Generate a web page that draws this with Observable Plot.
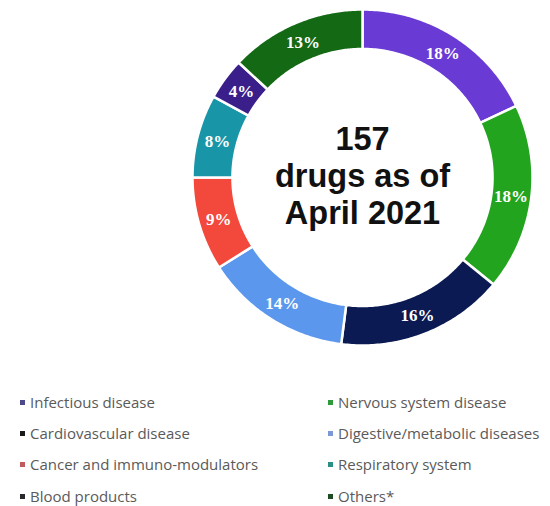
<!DOCTYPE html>
<html>
<head>
<meta charset="utf-8">
<script src="https://cdn.jsdelivr.net/npm/d3@7"></script>
<script src="https://cdn.jsdelivr.net/npm/@observablehq/plot@0.6"></script>
<style>
  html, body { margin: 0; padding: 0; background: #fff; overflow: hidden; }
  #chart { width: 550px; height: 350px; }
  #legend { position: relative; width: 550px; height: 156px; font-family: "Open Sans", sans-serif; font-size: 15px; color: #5a5a5a; }
  .item { position: absolute; white-space: nowrap; line-height: 16px; }
  .sw { display: inline-block; width: 5px; height: 5px; margin-right: 5px; vertical-align: middle; position: relative; top: -1px; }
</style>
</head>
<body>
<div id="chart"></div>
<div id="legend"></div>
<script>
const categories = ["Infectious disease", "Nervous system disease", "Cardiovascular disease", "Digestive/metabolic diseases", "Cancer and immuno-modulators", "Respiratory system", "Blood products", "Others*"];
const shares = [18, 18, 16, 14, 9, 8, 4, 13];
const sliceColors = ["#6a3bd4", "#22a41f", "#0b1a52", "#5b97ec", "#f2493c", "#1896a8", "#3a1f8a", "#146914"];
const legendColors = ["#4d4a8c", "#2f9a3a", "#1a1a1a", "#7c99d4", "#c05b5f", "#2a8f86", "#2a2a2a", "#1f4d22"];
const centerLines = ["157", "drugs as of", "April 2021"];
const legendOrder = [0, 2, 4, 6, 1, 3, 5, 7];

const innerR = 0.765, outerR = 1, labelR = 0.88;
const pie = d3.pie().sort(null).value(d => d)(shares);

// polygon outlines of each ring segment, computed from the pie angles
const ring = [];
pie.forEach((p, i) => {
  const n = 80;
  const pts = [];
  for (let k = 0; k <= n; k++) { const a = p.startAngle + (p.endAngle - p.startAngle) * k / n; pts.push([outerR * Math.sin(a), outerR * Math.cos(a)]); }
  for (let k = n; k >= 0; k--) { const a = p.startAngle + (p.endAngle - p.startAngle) * k / n; pts.push([innerR * Math.sin(a), innerR * Math.cos(a)]); }
  pts.forEach(([x, y], j) => ring.push({cat: categories[i], x, y, order: j}));
});
const labels = pie.map((p, i) => {
  const a = (p.startAngle + p.endAngle) / 2;
  return {x: labelR * Math.sin(a), y: labelR * Math.cos(a), text: shares[i] + "%"};
});

const chart = Plot.plot({
  width: 550, height: 350, margin: 0,
  x: {domain: [-1, 1], range: [192, 532], axis: null},
  y: {domain: [-1, 1], range: [345, 9], axis: null},
  color: {domain: categories, range: sliceColors},
  marks: [
    Plot.line(ring, {x: "x", y: "y", z: "cat", fill: "cat", stroke: "white", strokeWidth: 2.5, curve: "linear-closed"}),
    Plot.text(labels, {x: "x", y: "y", text: "text", fill: "white", fontSize: 17, fontWeight: "bold", fontFamily: "Liberation Serif", dy: 1}),
    Plot.text(centerLines, {x: () => 0, y: () => 0, text: d => d, fontSize: 32.5, fontWeight: "bold", fontFamily: "Liberation Sans", fill: "#111"})
  ]
});
document.getElementById("chart").appendChild(chart);
// stack the three centre lines
const centerText = chart.querySelectorAll("g[aria-label=text]")[1].querySelectorAll("text");
[-38, -1, 36].forEach((off, i) => { if (centerText[i]) centerText[i].setAttribute("dy", off + "px"); });

const leg = document.getElementById("legend");
const cols = [20, 328];
const rowsY = [52, 83, 114, 146];
legendOrder.forEach((ci, k) => {
  const col = Math.floor(k / 4), row = k % 4;
  const div = document.createElement("div");
  div.className = "item";
  div.style.left = cols[col] + "px";
  div.style.top = (rowsY[row] - 8) + "px";
  div.innerHTML = `<span class="sw" style="background:${legendColors[ci]}"></span>${categories[ci]}`;
  leg.appendChild(div);
});
</script>
</body>
</html>
